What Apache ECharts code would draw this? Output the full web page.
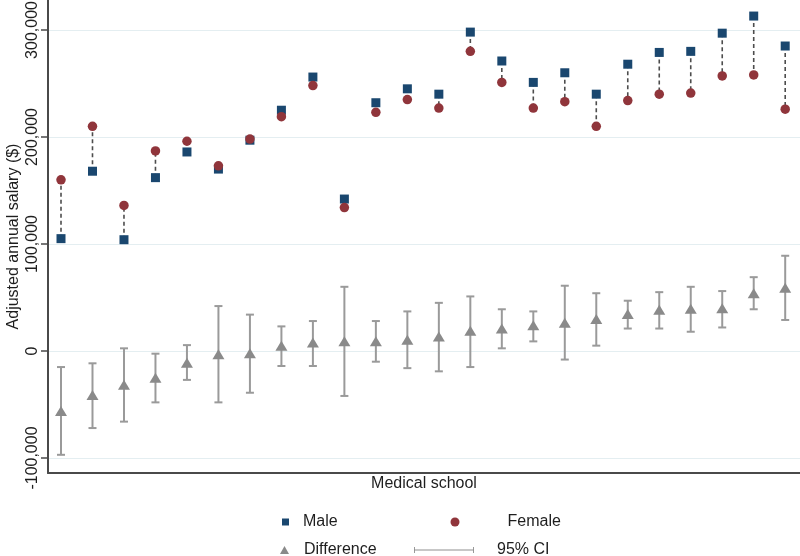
<!DOCTYPE html>
<html>
<head>
<meta charset="utf-8">
<script src="https://cdn.jsdelivr.net/npm/echarts@6/dist/echarts.min.js"></script>
<style>
html,body{margin:0;padding:0;background:#fff;}
#chart{width:800px;height:556px;}
</style>
</head>
<body>
<div id="chart"></div>
<script>
// ---- data ----
const schools = [1,2,3,4,5,6,7,8,9,10,11,12,13,14,15,16,17,18,19,20,21,22,23,24];
const male = [105000,168000,104000,162000,186000,170000,197000,225000,256000,142000,232000,245000,240000,298000,271000,251000,260000,240000,268000,279000,280000,297000,313000,285000];
const female = [160000,210000,136000,187000,196000,173000,198000,219000,248000,134000,223000,235000,227000,280000,251000,227000,233000,210000,234000,240000,241000,257000,258000,226000];
const difference = [-56000,-41000,-31500,-25000,-11000,-3000,-2000,5000,8000,9000,9000,10500,13500,19000,21000,24000,26500,30000,34500,38500,39500,40000,54000,59000];
const ciLow = [-97000,-72000,-66000,-48000,-27000,-48000,-39000,-14000,-14000,-42000,-10000,-16000,-19000,-15000,2500,9000,-8000,5000,21000,21000,18000,22000,39000,29000];
const ciHigh = [-15000,-11500,2500,-2500,5500,42000,34000,23000,28000,60000,28000,37000,45000,51000,39000,37000,61000,54000,47000,55000,60000,56000,69000,89000];
const yTicks = [-100000,0,100000,200000,300000];

const FONT = '"Liberation Sans", Arial, Helvetica, sans-serif';
const TXT = '#1e1e1e';

const maleData = schools.map((s,i)=>[s, male[i]]);
const femaleData = schools.map((s,i)=>[s, female[i]]);
const diffData = schools.map((s,i)=>[s, difference[i]]);
const ciData = schools.map((s,i)=>[s, ciLow[i], ciHigh[i]]);
const pairData = schools.map((s,i)=>[s, male[i], female[i]]);

const chart = echarts.init(document.getElementById('chart'), null, {renderer:'canvas'});

function legendBox(name, left, top, icon, w, h, pad){
  return {
    show:true, data:[{name:name, icon:icon}], left:left, top:top, padding:0,
    itemWidth:w, itemHeight:h, selectedMode:false,
    textStyle:{fontFamily:FONT, fontSize:16, color:TXT, padding:[0,0,0,pad]}
  };
}

const option = {
  animation:false,
  backgroundColor:'#ffffff',
  grid:{left:48, right:0, top:0, bottom:83, containLabel:false, outerBoundsMode:'none'},
  xAxis:{
    type:'value', min:0.587, max:24.47,
    name:'Medical school', nameLocation:'middle', nameGap:3, nameMoveOverlap:false,
    nameTextStyle:{fontFamily:FONT, fontSize:16, color:TXT, verticalAlign:'top'},
    axisLine:{show:true, onZero:false, lineStyle:{color:'#4a4a4a', width:2}},
    axisTick:{show:false}, axisLabel:{show:false}, splitLine:{show:false}
  },
  yAxis:{
    type:'value', min:-114000, max:328000,
    name:'Adjusted annual salary ($)', nameLocation:'middle', nameGap:26, nameRotate:90, nameMoveOverlap:false,
    nameTextStyle:{fontFamily:FONT, fontSize:16, color:TXT},
    axisLine:{show:true, onZero:false, lineStyle:{color:'#4a4a4a', width:2}},
    axisTick:{show:true, length:7, customValues:yTicks, lineStyle:{color:'#4a4a4a', width:1.5}},
    axisLabel:{show:true, customValues:yTicks, rotate:90, margin:7, fontFamily:FONT, fontSize:16, color:TXT,
      formatter:v=>v.toLocaleString('en-US')},
    splitLine:{show:true, lineStyle:{color:'#e4eef1', width:1}}
  },
  legend:[
    legendBox('Male', 282, 514, 'rect', 7, 7, 9),
    legendBox('Female', 450.5, 514, 'circle', 9, 9, 43),
    legendBox('Difference', 280, 542, 'triangle', 9, 8, 10),
    legendBox('95% CI', 414, 542, 'path://M0,0H1.5V10H0Z M0,4.3H100V5.7H0Z M98.5,0H100V10H98.5Z', 82, 6, 7)
  ],
  series:[
    {
      type:'custom', name:'pairs', data:pairData, z:1, silent:true,
      encode:{x:0, y:[1,2]},
      renderItem:function(params, api){
        const a = api.coord([api.value(0), api.value(1)]);
        const b = api.coord([api.value(0), api.value(2)]);
        return {type:'line', shape:{x1:a[0], y1:a[1], x2:b[0], y2:b[1]},
          style:{stroke:'#4d4d4d', lineWidth:1.6, lineDash:[4,3]}};
      }
    },
    {
      type:'custom', name:'95% CI', data:ciData, z:2,
      itemStyle:{color:'#8f8f8f'},
      encode:{x:0, y:[1,2]},
      renderItem:function(params, api){
        const lo = api.coord([api.value(0), api.value(1)]);
        const hi = api.coord([api.value(0), api.value(2)]);
        const c = 4;
        const st = {stroke:'#9a9a9a', lineWidth:2};
        return {type:'group', children:[
          {type:'line', shape:{x1:lo[0], y1:lo[1], x2:hi[0], y2:hi[1]}, style:st},
          {type:'line', shape:{x1:lo[0]-c, y1:lo[1], x2:lo[0]+c, y2:lo[1]}, style:st},
          {type:'line', shape:{x1:hi[0]-c, y1:hi[1], x2:hi[0]+c, y2:hi[1]}, style:st}
        ]};
      }
    },
    {type:'scatter', name:'Difference', data:diffData, symbol:'triangle', symbolSize:[12,10], z:3,
      itemStyle:{color:'#8a8a8a', opacity:1}},
    {type:'scatter', name:'Male', data:maleData, symbol:'rect', symbolSize:9, z:4,
      itemStyle:{color:'#1a476f', opacity:1}},
    {type:'scatter', name:'Female', data:femaleData, symbol:'circle', symbolSize:9.5, z:4,
      itemStyle:{color:'#90353b', opacity:1}}
  ]
};
chart.setOption(option);
</script>
</body>
</html>
